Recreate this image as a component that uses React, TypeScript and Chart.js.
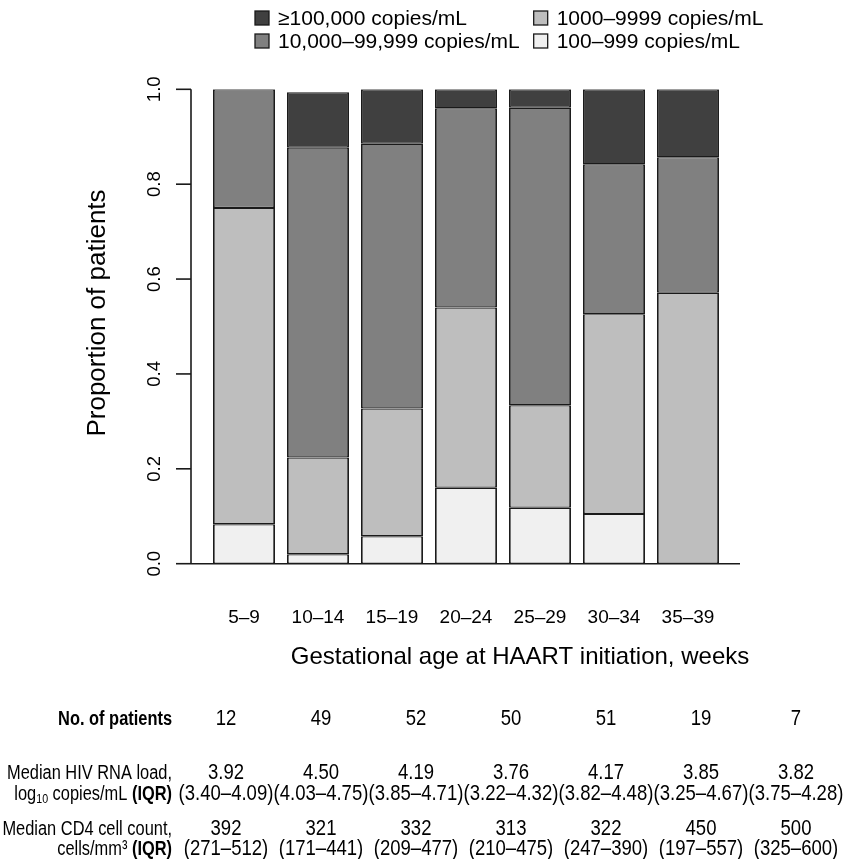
import React, { useEffect, useRef } from 'react';
import { Chart, registerables } from 'chart.js';

Chart.register(...registerables);

// ---------- data ----------
const categories = ['5–9', '10–14', '15–19', '20–24', '25–29', '30–34', '35–39'];
const seriesLabels = ['100–999 copies/mL', '1000–9999 copies/mL', '10,000–99,999 copies/mL', '≥100,000 copies/mL'];
const v100to999 = [0.083, 0.020, 0.058, 0.160, 0.118, 0.105, 0.0];
const v1000to9999 = [0.667, 0.204, 0.269, 0.380, 0.216, 0.421, 0.571];
const v10kto99k = [0.250, 0.653, 0.558, 0.420, 0.627, 0.316, 0.286];
const vOver100k = [0.0, 0.117, 0.115, 0.040, 0.039, 0.158, 0.143];
const yTicks = [0, 0.2, 0.4, 0.6, 0.8, 1.0];
const nPatients = ['12', '49', '52', '50', '51', '19', '7'];
const rnaMedian = ['3.92', '4.50', '4.19', '3.76', '4.17', '3.85', '3.82'];
const rnaIqr = ['(3.40–4.09)', '(4.03–4.75)', '(3.85–4.71)', '(3.22–4.32)', '(3.82–4.48)', '(3.25–4.67)', '(3.75–4.28)'];
const cd4Median = ['392', '321', '332', '313', '322', '450', '500'];
const cd4Iqr = ['(271–512)', '(171–441)', '(209–477)', '(210–475)', '(247–390)', '(197–557)', '(325–600)'];

// ---------- layout / styles ----------
const W = 843;
const H = 859;
const seriesColors = ['#f0f0f0', '#bebebe', '#808080', '#404040'];
const LINE = '#1a1a1a';
const FONT = '"Liberation Sans", Arial, Helvetica, sans-serif';
const NARROW = 0.82;
const TABLE_X0 = 226;
const TABLE_STEP = 95;

type Part = { text: string; font: string; dy?: number };

function drawParts(ctx: CanvasRenderingContext2D, parts: Part[], x: number, y: number, align: 'left' | 'right' | 'center', sx = 1) {
  let total = 0;
  const widths = parts.map((p) => {
    ctx.font = p.font;
    const w = ctx.measureText(p.text).width * sx;
    total += w;
    return w;
  });
  let cx = align === 'left' ? x : align === 'right' ? x - total : x - total / 2;
  parts.forEach((p, i) => {
    ctx.save();
    ctx.translate(cx, y + (p.dy || 0));
    ctx.scale(sx, 1);
    ctx.font = p.font;
    ctx.textAlign = 'left';
    ctx.textBaseline = 'middle';
    ctx.fillText(p.text, 0, 0);
    ctx.restore();
    cx += widths[i];
  });
}

const overlay = {
  id: 'overlay',
  afterDatasetsDraw(chart: any) {
    const ctx: CanvasRenderingContext2D = chart.ctx;
    const xs = chart.scales.x;
    const ys = chart.scales.y;
    const area = chart.chartArea;
    ctx.save();
    ctx.strokeStyle = LINE;
    ctx.fillStyle = '#000';
    ctx.lineWidth = 1.6;
    const tickLen = 15;
    const y0 = ys.getPixelForValue(0);
    const y1 = ys.getPixelForValue(1);

    // baseline
    ctx.beginPath();
    ctx.moveTo(area.left, y0);
    ctx.lineTo(area.right, y0);
    ctx.stroke();

    // y axis
    ctx.beginPath();
    ctx.moveTo(area.left, y0);
    ctx.lineTo(area.left, y1);
    ctx.stroke();
    yTicks.forEach((t) => {
      const y = ys.getPixelForValue(t);
      ctx.beginPath();
      ctx.moveTo(area.left - tickLen, y);
      ctx.lineTo(area.left, y);
      ctx.stroke();
      ctx.save();
      ctx.translate(area.left - 36, y);
      ctx.rotate(-Math.PI / 2);
      ctx.font = `18.5px ${FONT}`;
      ctx.textAlign = 'center';
      ctx.textBaseline = 'middle';
      ctx.fillText(t.toFixed(1), 0, 0);
      ctx.restore();
    });

    // y title
    ctx.save();
    ctx.translate(98, 313);
    ctx.rotate(-Math.PI / 2);
    ctx.font = `26px ${FONT}`;
    ctx.textAlign = 'center';
    ctx.textBaseline = 'middle';
    ctx.fillText('Proportion of patients', 0, 0);
    ctx.restore();

    // x category labels
    ctx.font = `19px ${FONT}`;
    ctx.textAlign = 'center';
    ctx.textBaseline = 'middle';
    categories.forEach((c, i) => {
      ctx.fillText(c, xs.getPixelForValue(i + 1), 618);
    });

    // x title
    ctx.font = `24px ${FONT}`;
    ctx.fillText('Gestational age at HAART initiation, weeks', 520, 657);

    // legend (column-major: col1 = darker two)
    const legendOrder = [3, 2, 1, 0];
    const lf = `21px ${FONT}`;
    ctx.font = lf;
    const col1W = Math.max(ctx.measureText(seriesLabels[3]).width, ctx.measureText(seriesLabels[2]).width);
    const box = 14;
    const x1 = 255;
    const colX = [x1, x1 + box + 9 + col1W + 14];
    const rowY = [18, 41];
    legendOrder.forEach((s, k) => {
      const col = Math.floor(k / 2);
      const row = k % 2;
      const bx = colX[col];
      const by = rowY[row];
      ctx.fillStyle = seriesColors[s];
      ctx.fillRect(bx, by - box / 2, box, box);
      ctx.lineWidth = 1.3;
      ctx.strokeRect(bx, by - box / 2, box, box);
      ctx.fillStyle = '#000';
      ctx.font = lf;
      ctx.textAlign = 'left';
      ctx.textBaseline = 'middle';
      ctx.fillText(seriesLabels[s], bx + box + 9, by + 1);
    });

    // table
    const tf = `22.6px ${FONT}`;
    const tl = `20px ${FONT}`;
    const tb = `bold 20px ${FONT}`;
    const ts = `13px ${FONT}`;
    const labelRight = 172;
    drawParts(ctx, [{ text: 'No. of patients', font: tb }], labelRight, 719, 'right', NARROW);
    drawParts(ctx, [{ text: 'Median HIV RNA load,', font: tl }], labelRight, 773, 'right', NARROW);
    drawParts(
      ctx,
      [
        { text: 'log', font: tl },
        { text: '10', font: ts, dy: 5 },
        { text: ' copies/mL ', font: tl },
        { text: '(IQR)', font: tb },
      ],
      labelRight,
      794,
      'right',
      NARROW
    );
    drawParts(ctx, [{ text: 'Median CD4 cell count,', font: tl }], labelRight, 829, 'right', NARROW);
    drawParts(
      ctx,
      [
        { text: 'cells/mm³ ', font: tl },
        { text: '(IQR)', font: tb },
      ],
      labelRight,
      849,
      'right',
      NARROW
    );
    categories.forEach((_, i) => {
      const cx = TABLE_X0 + i * TABLE_STEP;
      drawParts(ctx, [{ text: nPatients[i], font: tf }], cx, 719, 'center', NARROW);
      drawParts(ctx, [{ text: rnaMedian[i], font: tf }], cx, 773, 'center', NARROW);
      drawParts(ctx, [{ text: rnaIqr[i], font: tf }], cx, 794, 'center', NARROW);
      drawParts(ctx, [{ text: cd4Median[i], font: tf }], cx, 829, 'center', NARROW);
      drawParts(ctx, [{ text: cd4Iqr[i], font: tf }], cx, 849, 'center', NARROW);
    });
    ctx.restore();
  },
};

export default function App() {
  const ref = useRef<HTMLCanvasElement>(null);
  useEffect(() => {
    if (!ref.current) return;
    const seriesValues = [v100to999, v1000to9999, v10kto99k, vOver100k];
    const chart = new Chart(ref.current, {
      type: 'bar',
      data: {
        datasets: seriesValues.map((vals, s) => ({
          label: seriesLabels[s],
          data: vals.map((v, i) => ({ x: i + 1, y: v })),
          backgroundColor: seriesColors[s],
          borderColor: LINE,
          borderWidth: { top: 1.2, bottom: 1.2, left: 1.8, right: 1.8 },
          borderSkipped: false,
          barPercentage: 0.838,
          categoryPercentage: 1,
        })),
      },
      options: {
        responsive: false,
        devicePixelRatio: 1,
        animation: false,
        layout: { padding: { left: 191, right: W - 740, top: 89.3, bottom: H - 563.7 } },
        plugins: { legend: { display: false }, tooltip: { enabled: false } },
        scales: {
          x: {
            type: 'linear',
            display: false,
            stacked: true,
            offset: false,
            grid: { offset: false },
            min: 0.284,
            max: 7.703,
            afterBuildTicks: (scale: any) => {
              scale.ticks = categories.map((_, i) => ({ value: i + 1 }));
            },
          },
          y: { display: false, stacked: true, min: 0, max: 1 },
        },
      },
      plugins: [overlay],
    } as any);
    return () => chart.destroy();
  }, []);
  return (
    <div style={{ position: 'absolute', left: 0, top: 0, width: W, height: H, background: '#fff' }}>
      <canvas ref={ref} width={W} height={H} style={{ width: W, height: H, display: 'block' }} />
    </div>
  );
}
